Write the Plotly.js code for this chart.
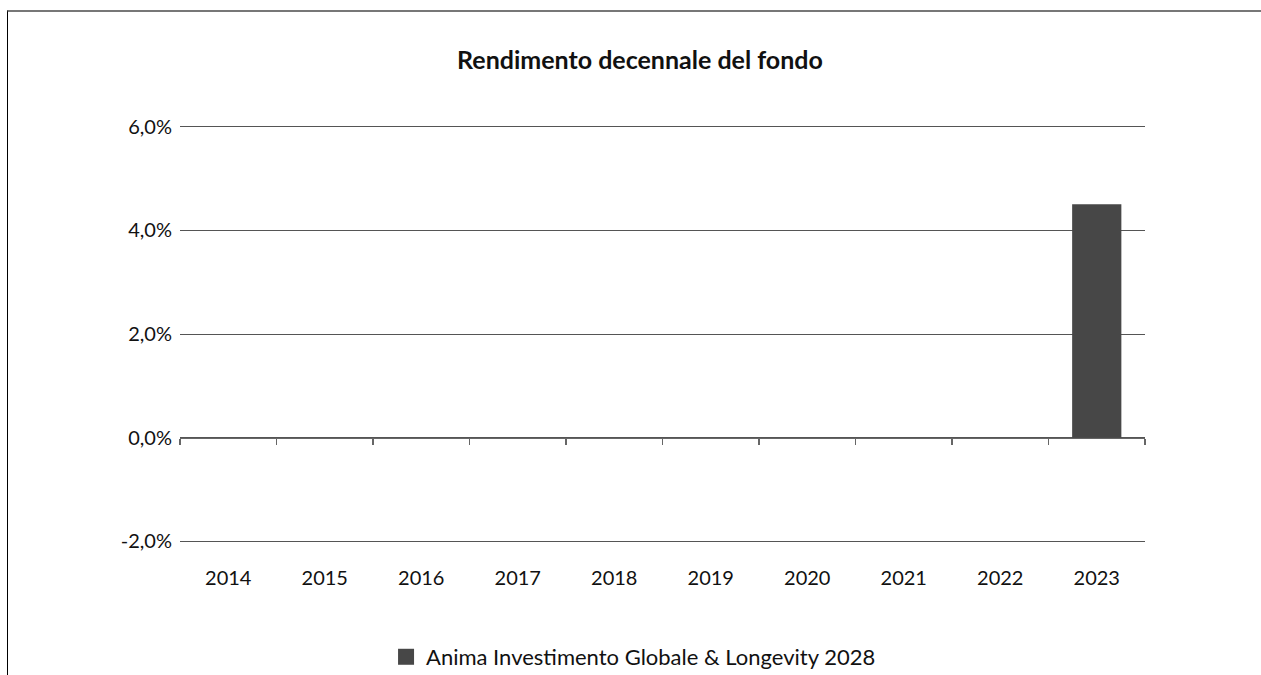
<!DOCTYPE html>
<html>
<head>
<meta charset="utf-8">
<script src="https://cdn.plot.ly/plotly-3.0.1.min.js"></script>
<style>
  html, body { margin: 0; padding: 0; background: #fff; }
  #wrap { position: relative; width: 1261px; height: 675px; }
  #chart { width: 1261px; height: 675px; }
  #frame { position: absolute; left: 7px; top: 10px; width: 1254px; height: 665px;
           border-top: 2px solid #777; border-left: 1px solid #000; box-sizing: border-box;
           pointer-events: none; }
</style>
</head>
<body>
<div id="wrap">
  <div id="chart"></div>
  <div id="frame"></div>
</div>
<script>
const years = ['2014','2015','2016','2017','2018','2019','2020','2021','2022','2023'];
const fundReturns = [null, null, null, null, null, null, null, null, null, 4.5];
const seriesName = 'Anima Investimento Globale & Longevity 2028';
const chartTitle = 'Rendimento decennale del fondo';
const yTicks = [-2, 0, 2, 4, 6];
const yTickText = yTicks.map(v => v.toFixed(1).replace('.', ',') + '%');

const font = "Lato, 'Open Sans', sans-serif";
const barColor = '#474747';
const yRange = [-2.05, 6.05];
const xRange = [-0.5, years.length - 0.5];

const data = [{
  type: 'bar',
  x: years,
  y: fundReturns,
  name: seriesName,
  marker: { color: barColor },
  showlegend: false,
  hoverinfo: 'x+y'
}, {
  // legend entry with a larger square swatch
  type: 'scatter',
  mode: 'markers',
  x: years,
  y: fundReturns.map(() => null),
  name: seriesName,
  marker: { symbol: 'square', size: 20, color: barColor },
  showlegend: true,
  hoverinfo: 'skip'
}, {
  type: 'scatter',
  x: years,
  y: fundReturns.map(() => null),
  xaxis: 'x2',
  showlegend: false,
  hoverinfo: 'skip'
}];

const layout = {
  width: 1261,
  height: 675,
  paper_bgcolor: '#fff',
  plot_bgcolor: '#fff',
  font: { family: font, color: '#111', size: 20 },
  title: {
    text: '<b>' + chartTitle + '</b>',
    x: 0.5075, xanchor: 'center',
    y: 0.911, yanchor: 'middle',
    font: { family: font, size: 25, color: '#111' }
  },
  margin: { l: 180, r: 116, t: 124, b: 131, autoexpand: false },
  bargap: 0.49,
  xaxis: {
    type: 'category',
    categoryorder: 'array',
    categoryarray: years,
    range: xRange,
    autorange: false,
    showgrid: false,
    showline: false,
    zeroline: false,
    ticks: 'outside',
    ticklen: 16,
    tickcolor: 'rgba(0,0,0,0)',
    tickfont: { family: font, size: 20, color: '#111' },
    fixedrange: true
  },
  xaxis2: {
    type: 'category',
    overlaying: 'x',
    categoryorder: 'array',
    categoryarray: years,
    range: xRange,
    autorange: false,
    anchor: 'free',
    position: (0 - yRange[0]) / (yRange[1] - yRange[0]),
    side: 'bottom',
    showline: true,
    linecolor: '#666',
    linewidth: 1.5,
    showgrid: false,
    zeroline: false,
    ticks: 'outside',
    tickson: 'boundaries',
    ticklen: 6,
    tickwidth: 1.5,
    tickcolor: '#666',
    showticklabels: false,
    fixedrange: true
  },
  yaxis: {
    range: yRange,
    autorange: false,
    tickmode: 'array',
    tickvals: yTicks,
    ticktext: yTickText,
    showgrid: true,
    gridcolor: '#555',
    gridwidth: 1,
    zeroline: false,
    showline: false,
    ticks: 'outside',
    ticklen: 3,
    tickcolor: 'rgba(0,0,0,0)',
    tickfont: { family: font, size: 20, color: '#111' },
    fixedrange: true
  },
  legend: {
    orientation: 'h',
    x: 0.47, xanchor: 'center',
    y: -0.269, yanchor: 'middle',
    font: { family: font, size: 22, color: '#111' },
    itemwidth: 30
  },
  showlegend: true
};

Plotly.newPlot('chart', data, layout, { displayModeBar: false, staticPlot: true });
</script>
</body>
</html>
